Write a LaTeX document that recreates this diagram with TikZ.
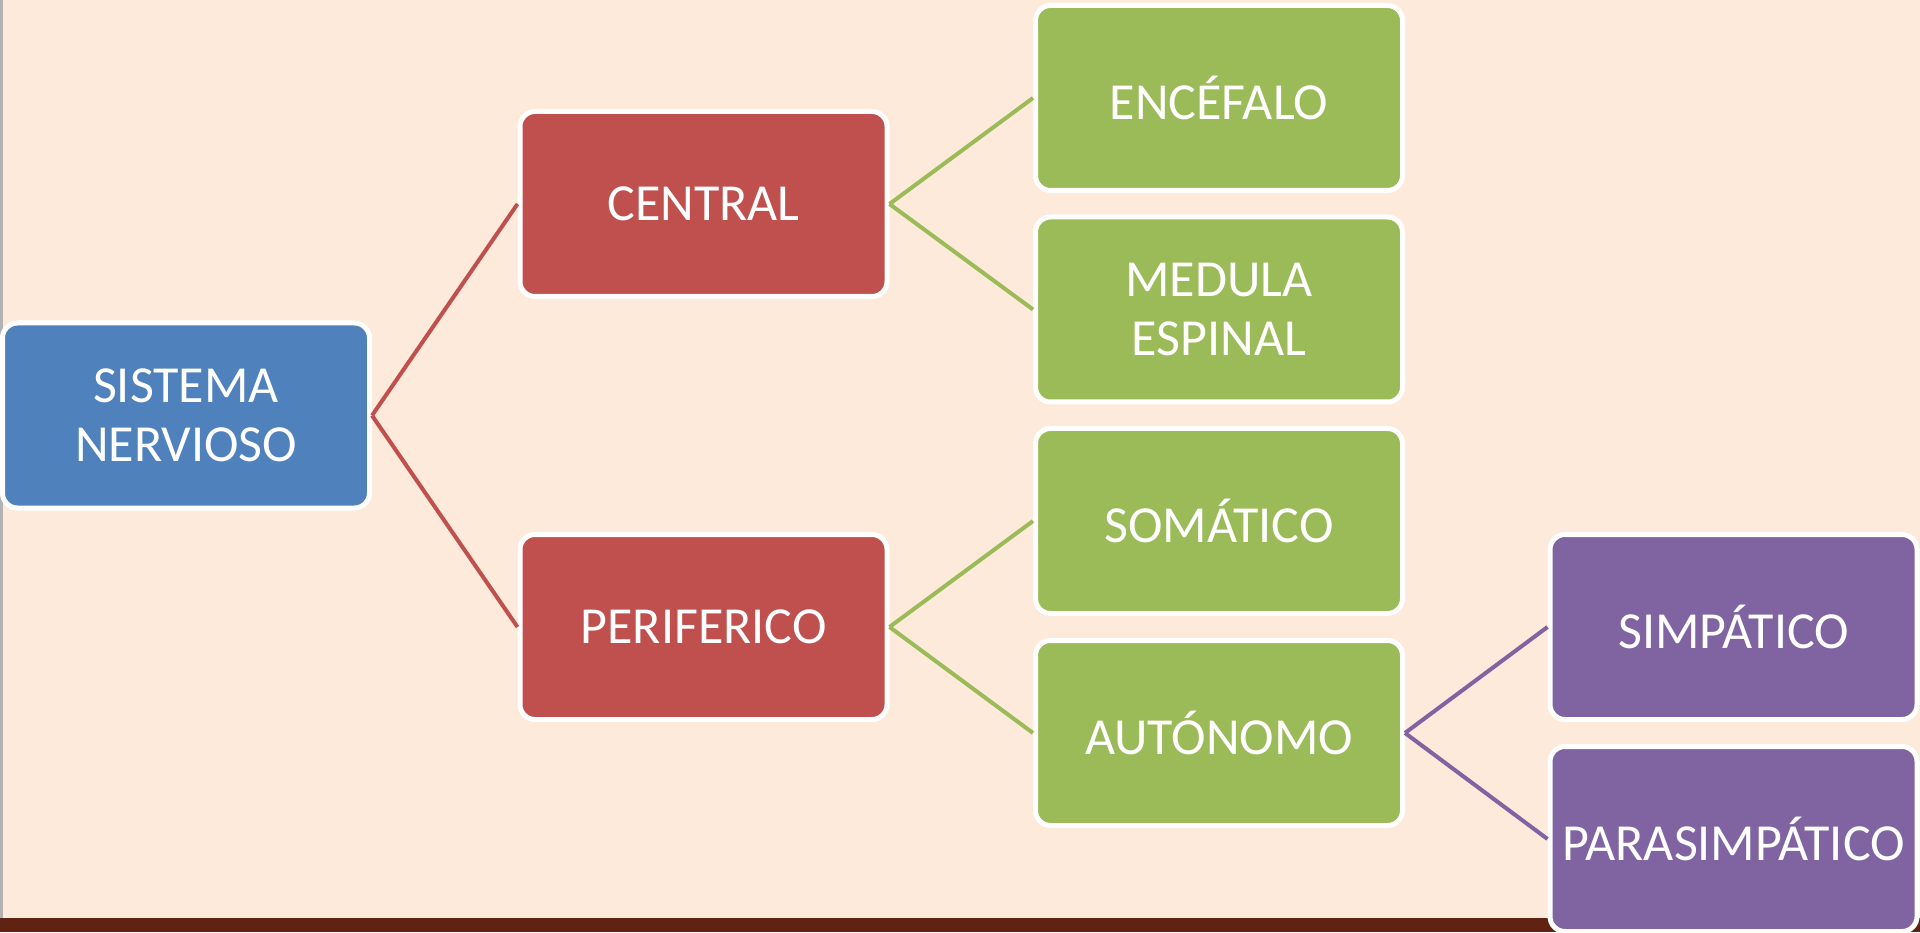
\documentclass[tikz,border=0pt]{standalone}
\usepackage{fontspec}
\setmainfont{Carlito}
\definecolor{fondo}{RGB}{253,234,218}
\definecolor{azul}{RGB}{79,129,189}
\definecolor{rojo}{RGB}{192,80,77}
\definecolor{verde}{RGB}{155,187,89}
\definecolor{morado}{RGB}{128,100,162}
\definecolor{franja}{RGB}{96,34,18}
\tikzset{
	caja/.style={rounded corners=0.15cm, draw=white, line width=0.05cm, minimum width=3.67cm, minimum height=1.85cm, inner sep=0pt, align=center, text=white, font=\fontsize{14.8}{16.7}\selectfont},
	rama/.style={line width=0.04cm}
}

\begin{document}
\begin{tikzpicture}
			%%%%% START %%%%%
			
			\fill[fondo] (0, 0) rectangle (19.2, 9.32);
			\useasboundingbox (0, 0) rectangle (19.2, 9.32);
			\fill[franja] (0, 0) rectangle (19.2, 0.14);
			\fill[gray!60] (0, 0.14) rectangle (0.03, 9.32);
			
			\node[caja, fill=azul] (sn) at (1.86, 5.165) {SISTEMA\\NERVIOSO};
			
			\node[caja, fill=rojo] (cen) at (7.035, 7.28) {CENTRAL};
			\node[caja, fill=rojo] (per) at (7.035, 3.05) {PERIFERICO};
			
			\node[caja, fill=verde] (enc) at (12.19, 8.34) {ENCÉFALO};
			\node[caja, fill=verde] (med) at (12.19, 6.225) {MEDULA\\ESPINAL};
			\node[caja, fill=verde] (som) at (12.19, 4.11) {SOMÁTICO};
			\node[caja, fill=verde] (aut) at (12.19, 1.99) {AUTÓNOMO};
			
			\node[caja, fill=morado] (sim) at (17.335, 3.05) {SIMPÁTICO};
			\node[caja, fill=morado] (par) at (17.335, 0.93) {PARASIMPÁTICO};
			
			\draw[rama, color=rojo] (sn.east) -- (cen.west);
			\draw[rama, color=rojo] (sn.east) -- (per.west);
			
			\draw[rama, color=verde] (cen.east) -- (enc.west);
			\draw[rama, color=verde] (cen.east) -- (med.west);
			\draw[rama, color=verde] (per.east) -- (som.west);
			\draw[rama, color=verde] (per.east) -- (aut.west);
			
			\draw[rama, color=morado] (aut.east) -- (sim.west);
			\draw[rama, color=morado] (aut.east) -- (par.west);
			
			%%%%% END %%%%%
\end{tikzpicture}
\end{document}
